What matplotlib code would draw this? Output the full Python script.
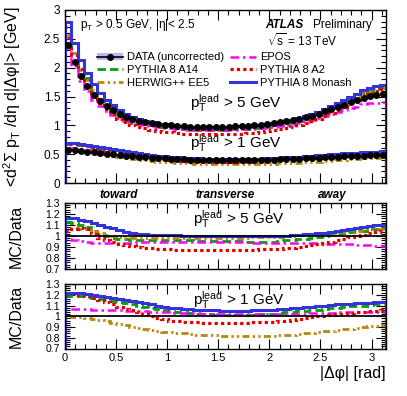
import numpy as np
import matplotlib
matplotlib.use("Agg")
import matplotlib.pyplot as plt
from matplotlib.lines import Line2D
from matplotlib.patches import Patch
from matplotlib.ticker import MultipleLocator, FuncFormatter

plt.rcParams['font.family'] = ['Liberation Sans', 'DejaVu Sans']
plt.rcParams['mathtext.fontset'] = 'custom'
plt.rcParams['mathtext.rm'] = 'Liberation Sans'
plt.rcParams['mathtext.it'] = 'Liberation Sans:italic'
plt.rcParams['mathtext.bf'] = 'Liberation Sans:bold'

nbins = 50

# data, pT lead > 5 GeV
data_5 = [2.40, 2.10, 1.85, 1.68, 1.53, 1.42, 1.33, 1.26, 1.20, 1.15,
          1.11, 1.08, 1.06, 1.04, 1.02, 1.01, 1.00, 0.99, 0.98, 0.975,
          0.97, 0.97, 0.97, 0.97, 0.97, 0.975, 0.98, 0.985, 0.99, 1.00,
          1.01, 1.02, 1.035, 1.05, 1.07, 1.09, 1.11, 1.14, 1.17, 1.20,
          1.24, 1.28, 1.32, 1.36, 1.40, 1.44, 1.48, 1.51, 1.53, 1.55]
# data, pT lead > 1 GeV
data_1 = [0.575, 0.565, 0.555, 0.545, 0.535, 0.522, 0.510, 0.498, 0.487, 0.476,
          0.466, 0.456, 0.447, 0.440, 0.432, 0.426, 0.420, 0.415, 0.410, 0.406,
          0.403, 0.400, 0.398, 0.396, 0.395, 0.394, 0.394, 0.395, 0.396, 0.398,
          0.400, 0.403, 0.406, 0.410, 0.414, 0.418, 0.423, 0.428, 0.433, 0.438,
          0.444, 0.449, 0.455, 0.460, 0.465, 0.470, 0.474, 0.478, 0.481, 0.484]

# MC/Data ratios, pT lead > 5 GeV
r5_a14 = [1.13, 1.12, 1.10, 1.08, 1.05, 1.02, 1.00, 0.985, 0.975, 0.97,
          0.965, 0.965, 0.96, 0.96, 0.96, 0.96, 0.96, 0.96, 0.96, 0.96,
          0.955, 0.955, 0.955, 0.955, 0.955, 0.955, 0.955, 0.955, 0.95, 0.95,
          0.95, 0.95, 0.95, 0.955, 0.96, 0.965, 0.97, 0.975, 0.985, 0.995,
          1.00, 1.01, 1.02, 1.03, 1.04, 1.045, 1.05, 1.06, 1.065, 1.07]
r5_herwig = [1.07, 1.07, 1.06, 1.06, 1.05, 1.03, 1.01, 1.00, 0.99, 0.985,
             0.98, 0.98, 0.98, 0.98, 0.98, 0.98, 0.98, 0.98, 0.98, 0.98,
             0.98, 0.98, 0.98, 0.98, 0.98, 0.98, 0.985, 0.985, 0.985, 0.99,
             0.99, 0.99, 0.99, 0.995, 1.00, 1.00, 1.005, 1.01, 1.015, 1.02,
             1.025, 1.03, 1.035, 1.04, 1.045, 1.05, 1.055, 1.06, 1.06, 1.06]
r5_epos = [0.975, 0.965, 0.955, 0.945, 0.94, 0.935, 0.935, 0.935, 0.935, 0.94,
           0.94, 0.945, 0.945, 0.945, 0.95, 0.95, 0.95, 0.95, 0.95, 0.95,
           0.95, 0.95, 0.945, 0.945, 0.945, 0.945, 0.945, 0.945, 0.945, 0.94,
           0.94, 0.94, 0.94, 0.94, 0.94, 0.94, 0.94, 0.935, 0.935, 0.935,
           0.93, 0.93, 0.93, 0.925, 0.925, 0.92, 0.92, 0.915, 0.91, 0.905]
r5_a2 = [1.05, 1.06, 1.07, 1.06, 1.02, 0.98, 0.96, 0.945, 0.93, 0.92,
         0.91, 0.90, 0.895, 0.89, 0.885, 0.88, 0.88, 0.875, 0.875, 0.875,
         0.87, 0.87, 0.87, 0.87, 0.87, 0.87, 0.87, 0.87, 0.875, 0.875,
         0.88, 0.88, 0.88, 0.885, 0.89, 0.895, 0.90, 0.91, 0.92, 0.93,
         0.94, 0.95, 0.96, 0.975, 0.99, 1.00, 1.01, 1.025, 1.04, 1.05]
r5_monash = [1.165, 1.16, 1.15, 1.135, 1.12, 1.10, 1.085, 1.07, 1.055, 1.04,
             1.03, 1.02, 1.015, 1.01, 1.01, 1.005, 1.005, 1.005, 1.00, 1.00,
             1.00, 1.00, 1.00, 1.00, 1.00, 1.00, 1.00, 1.00, 1.00, 1.00,
             1.00, 1.00, 1.00, 1.00, 1.00, 1.005, 1.01, 1.015, 1.02, 1.025,
             1.03, 1.04, 1.05, 1.055, 1.065, 1.075, 1.085, 1.095, 1.10, 1.10]

# MC/Data ratios, pT lead > 1 GeV
r1_a14 = [1.19, 1.19, 1.185, 1.18, 1.17, 1.16, 1.15, 1.14, 1.13, 1.12,
          1.11, 1.10, 1.09, 1.08, 1.07, 1.06, 1.05, 1.04, 1.035, 1.03,
          1.025, 1.02, 1.02, 1.015, 1.015, 1.015, 1.01, 1.01, 1.015, 1.015,
          1.02, 1.02, 1.025, 1.03, 1.035, 1.04, 1.045, 1.05, 1.055, 1.06,
          1.07, 1.075, 1.08, 1.09, 1.095, 1.10, 1.10, 1.105, 1.11, 1.11]
r1_herwig = [1.00, 0.995, 0.99, 0.985, 0.975, 0.965, 0.955, 0.94, 0.925, 0.915,
             0.90, 0.89, 0.88, 0.87, 0.86, 0.855, 0.85, 0.845, 0.84, 0.835,
             0.83, 0.83, 0.825, 0.825, 0.82, 0.82, 0.82, 0.82, 0.82, 0.82,
             0.82, 0.82, 0.82, 0.825, 0.825, 0.83, 0.835, 0.84, 0.845, 0.85,
             0.86, 0.865, 0.87, 0.88, 0.885, 0.89, 0.90, 0.905, 0.91, 0.915]
r1_epos = [1.065, 1.065, 1.065, 1.065, 1.06, 1.06, 1.06, 1.055, 1.055, 1.05,
           1.05, 1.045, 1.045, 1.04, 1.04, 1.035, 1.035, 1.03, 1.03, 1.03,
           1.03, 1.025, 1.025, 1.025, 1.025, 1.025, 1.025, 1.025, 1.025, 1.025,
           1.025, 1.025, 1.025, 1.025, 1.025, 1.025, 1.025, 1.025, 1.03, 1.03,
           1.03, 1.03, 1.035, 1.035, 1.035, 1.04, 1.04, 1.04, 1.04, 1.04]
r1_a2 = [1.21, 1.21, 1.20, 1.19, 1.17, 1.15, 1.13, 1.11, 1.09, 1.07,
         1.055, 1.04, 1.02, 1.00, 0.985, 0.97, 0.96, 0.955, 0.95, 0.945,
         0.945, 0.94, 0.94, 0.94, 0.94, 0.94, 0.94, 0.94, 0.94, 0.945,
         0.945, 0.945, 0.95, 0.955, 0.96, 0.965, 0.975, 0.985, 0.995, 1.00,
         1.005, 1.01, 1.02, 1.025, 1.03, 1.035, 1.04, 1.045, 1.05, 1.055]
r1_monash = [1.22, 1.22, 1.215, 1.21, 1.20, 1.19, 1.18, 1.17, 1.16, 1.15,
             1.14, 1.13, 1.12, 1.11, 1.10, 1.09, 1.08, 1.075, 1.07, 1.065,
             1.06, 1.06, 1.055, 1.055, 1.05, 1.05, 1.05, 1.05, 1.05, 1.055,
             1.055, 1.06, 1.06, 1.065, 1.07, 1.075, 1.08, 1.085, 1.09, 1.095,
             1.10, 1.105, 1.11, 1.115, 1.115, 1.12, 1.125, 1.125, 1.13, 1.13]

mc_names = ["PYTHIA 8 A14", "HERWIG++ EE5", "EPOS", "PYTHIA 8 A2", "PYTHIA 8 Monash"]
ratios_5 = [r5_a14, r5_herwig, r5_epos, r5_a2, r5_monash]
ratios_1 = [r1_a14, r1_herwig, r1_epos, r1_a2, r1_monash]

styles = [
    dict(color='#00a000', lw=2.0, ls=(0, (3, 1.5))),
    dict(color='#b8860b', lw=2.0, ls=(0, (2.5, 1.2, 0.8, 1.2, 0.8, 1.2))),
    dict(color='#ff00ff', lw=1.8, ls=(0, (3.5, 1.5, 1, 1.5))),
    dict(color='#e00000', lw=2.3, ls=(0, (1, 1))),
    dict(color='#3333dd', lw=2.2, ls='-'),
]
band_col = '#b8b8f0'

edges = np.linspace(0, np.pi, nbins + 1)
centers = 0.5 * (edges[1:] + edges[:-1])
d5 = np.array(data_5)
d1 = np.array(data_1)

W, H = 407, 396
fig = plt.figure(figsize=(W / 100, H / 100), dpi=100)


def box(top, bottom, left=65, right=386):
    return [left / W, 1 - bottom / H, (right - left) / W, (bottom - top) / H]


gfmt = FuncFormatter(lambda v, p: '%g' % round(v, 3))


def style_axes(ax, ymaj, ymin, lsize):
    ax.set_xlim(0, np.pi)
    ax.xaxis.set_major_locator(MultipleLocator(0.5))
    ax.xaxis.set_minor_locator(MultipleLocator(0.1))
    ax.yaxis.set_major_locator(MultipleLocator(ymaj))
    ax.yaxis.set_minor_locator(MultipleLocator(ymin))
    ax.yaxis.set_major_formatter(gfmt)
    ax.xaxis.set_major_formatter(gfmt)
    ax.tick_params(which='both', direction='in', top=True, right=True, labelsize=lsize)
    ax.tick_params(which='major', length=7, width=0.8)
    ax.tick_params(which='minor', length=3.5, width=0.8)
    for s in ax.spines.values():
        s.set_linewidth(1.0)


# main panel
ax = fig.add_axes(box(10, 183))
for d, ratios in [(d5, ratios_5), (d1, ratios_1)]:
    ax.stairs(d * 1.015, edges, baseline=d * 0.985, fill=True, color=band_col, lw=0, zorder=1)
    for r, st in zip(ratios, styles):
        ax.stairs(np.array(r) * d, edges, zorder=2, **st)
    ax.plot(centers, d, 'o', color='black', ms=4, zorder=5)
ax.set_ylim(0, 3)
style_axes(ax, 0.5, 0.1, 8.5)
ax.tick_params(labelbottom=False)
ax.set_ylabel(r"<d$^2$Σ p$_{\mathrm{T}}$ /dη d|Δφ|> [GeV]", fontsize=11.5)
ax.yaxis.set_label_coords(-0.13, 0.5)

ax.text(80 / W, 1 - 25 / H, r"p$_{\mathrm{T}}$ > 0.5 GeV, |η|< 2.5", transform=fig.transFigure,
        fontsize=8.5, va='center')
ax.text(265 / W, 1 - 25 / H, "ATLAS", transform=fig.transFigure, fontsize=8.5,
        fontweight='bold', style='italic', va='center')
ax.text(313 / W, 1 - 25 / H, "Preliminary", transform=fig.transFigure, fontsize=8.5, va='center')
ax.text(267 / W, 1 - 41 / H, r"$\sqrt{\mathrm{s}}$ = 13 TeV", transform=fig.transFigure,
        fontsize=8.5, va='center')
ax.text(190 / W, 1 - 103 / H, r"p$_{\mathrm{T}}^{\mathrm{lead}}$ > 5 GeV", transform=fig.transFigure,
        fontsize=11, va='center')
ax.text(190 / W, 1 - 143 / H, r"p$_{\mathrm{T}}^{\mathrm{lead}}$ > 1 GeV", transform=fig.transFigure,
        fontsize=11, va='center')
for xr, word in [(np.pi / 6, "toward"), (np.pi / 2, "transverse"), (5 * np.pi / 6, "away")]:
    ax.text(xr, -0.035, word, transform=ax.get_xaxis_transform(), ha='center', va='top',
            fontsize=8.5, fontweight='bold', style='italic')

data_handle = (Patch(facecolor=band_col, edgecolor='none'),
               Line2D([], [], color='black', marker='o', ms=4, lw=1.2))
handles = [data_handle] + [Line2D([], [], **st) for st in styles]
labels = ["DATA (uncorrected)"] + mc_names
leg = ax.legend(handles, labels, ncol=2,
                loc='upper left', bbox_to_anchor=(28 / 321, 1 - 38 / 173), frameon=False,
                fontsize=8, handlelength=2.3, handletextpad=0.4, columnspacing=0.5,
                labelspacing=0.25, borderaxespad=0)

# ratio panels
for top, bottom, ratios, txt in [(203, 269, ratios_5, "5"), (284, 348.5, ratios_1, "1")]:
    rax = fig.add_axes(box(top, bottom))
    rax.axhspan(0.99, 1.01, color=band_col, lw=0, zorder=1)
    rax.axhline(1.0, color='black', lw=1.2, zorder=3)
    for r, st in zip(ratios, styles):
        rax.stairs(r, edges, zorder=2, **st)
    rax.set_ylim(0.7, 1.3)
    style_axes(rax, 0.1, 0.02, 7.5)
    rax.set_ylabel("MC/Data", fontsize=11.5)
    rax.yaxis.set_label_coords(-0.13, 0.5)
    rax.text(0.4, 0.75, r"p$_{\mathrm{T}}^{\mathrm{lead}}$ > %s GeV" % txt, transform=rax.transAxes,
             fontsize=11, va='center')
    if txt == "5":
        rax.tick_params(labelbottom=False)
    else:
        rax.tick_params(labelsize=8, axis='x')
        rax.set_xlabel("|Δφ| [rad]", fontsize=11.5, ha='right', x=1.0, labelpad=2)

fig.savefig("out.png", dpi=100)
